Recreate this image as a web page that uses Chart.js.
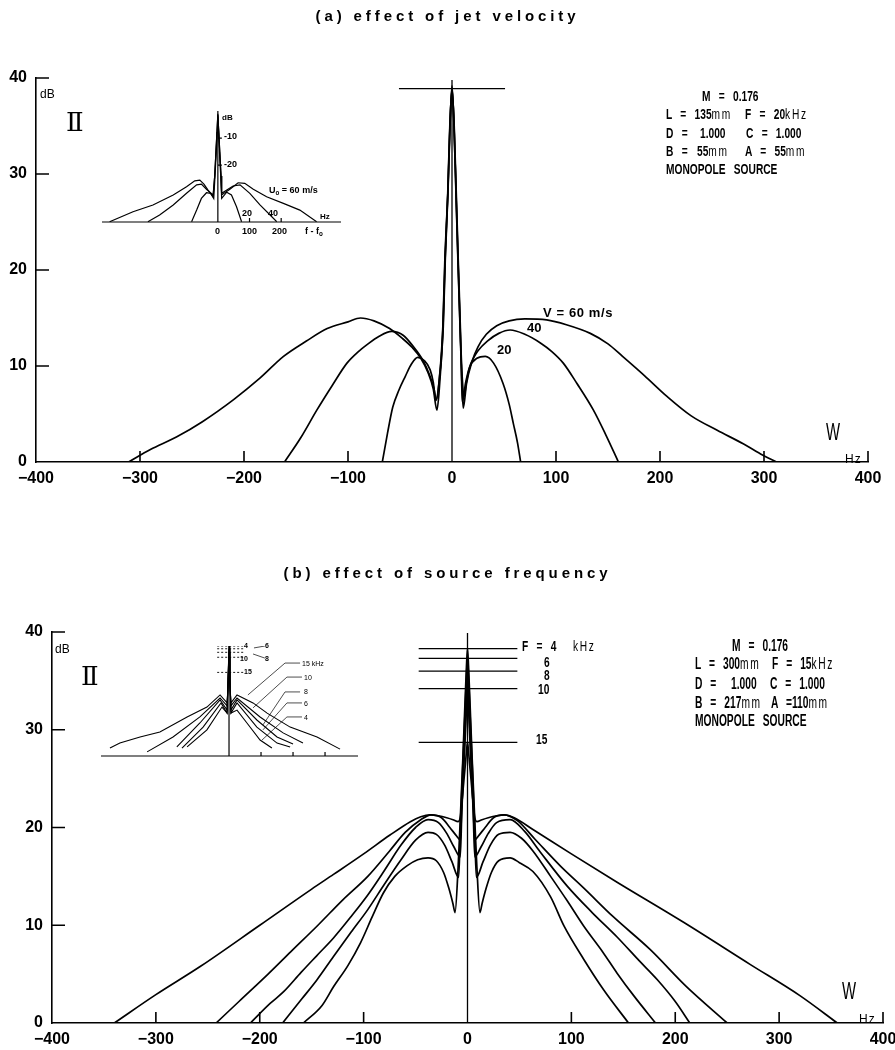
<!DOCTYPE html>
<html><head><meta charset="utf-8">
<script src="https://cdn.jsdelivr.net/npm/chart.js@4.4.1/dist/chart.umd.min.js"></script>
<style>
body{margin:0;background:#fff;}
#wrap{position:relative;width:895px;height:1050px;overflow:hidden;background:#fff;}
canvas{position:absolute;}
.t{position:absolute;white-space:pre;color:#000;line-height:1;}
.title{font-family:'Liberation Sans',Arial,sans-serif;font-size:15px;font-weight:bold;letter-spacing:3.9px;left:0;width:895px;text-align:center;}
.nar{font-family:'Liberation Sans',Arial,sans-serif;font-weight:bold;font-size:15px;word-spacing:8px;transform:scaleX(0.68);transform-origin:left top;}
.nar2{font-family:'Liberation Sans',Arial,sans-serif;font-weight:bold;font-size:16px;word-spacing:8px;transform:scaleX(0.64);transform-origin:left top;}
.u{font-weight:normal;letter-spacing:2.5px;}
.sans{font-family:'Liberation Sans',Arial,sans-serif;}
.b{font-weight:bold;}
.serif{font-family:'DejaVu Serif','Liberation Serif',serif;}
.w{font-family:'Liberation Sans',Arial,sans-serif;font-size:24px;transform:scaleX(0.62);transform-origin:left top;}
sub{font-size:70%;vertical-align:-2px;line-height:0;}
</style></head><body><div id="wrap">
<canvas id="ca" width="895" height="520" style="left:0px;top:0px"></canvas>
<canvas id="cb" width="910" height="510" style="left:0px;top:540px"></canvas>
<canvas id="ia" width="255" height="145" style="left:95px;top:100px"></canvas>
<canvas id="ib" width="270" height="135" style="left:95px;top:635px"></canvas>

<div class="t title" style="top:8px">(a) effect of jet velocity</div>
<div class="t sans" style="left:40px;top:88px;font-size:12px">dB</div>
<div class="t serif" style="left:66px;top:109px;font-size:26px">Ⅱ</div>
<div class="t nar" style="left:702px;top:88px">M = 0.176</div>
<div class="t nar" style="left:666px;top:106px">L = 135<span class="u">mm</span></div>
<div class="t nar" style="left:745px;top:106px">F = 20<span class="u">kHz</span></div>
<div class="t nar" style="left:666px;top:125px">D =</div>
<div class="t nar" style="left:700px;top:125px">1.000</div>
<div class="t nar" style="left:746px;top:125px">C = 1.000</div>
<div class="t nar" style="left:666px;top:143px">B =</div>
<div class="t nar" style="left:697px;top:143px">55<span class="u">mm</span></div>
<div class="t nar" style="left:745px;top:143px">A = 55<span class="u">mm</span></div>
<div class="t nar" style="left:666px;top:161px">MONOPOLE SOURCE</div>
<div class="t sans b" style="left:543px;top:306px;font-size:13px;letter-spacing:0.6px">V = 60 m/s</div>
<div class="t sans b" style="left:527px;top:321px;font-size:13px">40</div>
<div class="t sans b" style="left:497px;top:343px;font-size:13px">20</div>
<div class="t w" style="left:826px;top:420px">W</div>
<div class="t sans" style="left:845px;top:453px;font-size:12px;letter-spacing:1px">Hz</div>

<div class="t sans b" style="left:222px;top:114px;font-size:8px">dB</div>
<div class="t sans b" style="left:224px;top:132px;font-size:9px">-10</div>
<div class="t sans b" style="left:224px;top:160px;font-size:9px">-20</div>
<div class="t sans b" style="left:269px;top:186px;font-size:9px">U<sub>o</sub> = 60 m/s</div>
<div class="t sans b" style="left:242px;top:209px;font-size:9px">20</div>
<div class="t sans b" style="left:268px;top:209px;font-size:9px">40</div>
<div class="t sans b" style="left:320px;top:213px;font-size:8px">Hz</div>
<div class="t sans b" style="left:215px;top:227px;font-size:9px">0</div>
<div class="t sans b" style="left:242px;top:227px;font-size:9px">100</div>
<div class="t sans b" style="left:272px;top:227px;font-size:9px">200</div>
<div class="t sans b" style="left:305px;top:227px;font-size:9px">f - f<sub>o</sub></div>

<div class="t title" style="top:565px">(b) effect of source frequency</div>
<div class="t sans" style="left:55px;top:643px;font-size:12px">dB</div>
<div class="t serif" style="left:81px;top:663px;font-size:26px">Ⅱ</div>
<div class="t nar2" style="left:732px;top:638px">M = 0.176</div>
<div class="t nar2" style="left:695px;top:656px">L = 300<span class="u">mm</span></div>
<div class="t nar2" style="left:772px;top:656px">F = 15<span class="u">kHz</span></div>
<div class="t nar2" style="left:695px;top:676px">D =</div>
<div class="t nar2" style="left:731px;top:676px">1.000</div>
<div class="t nar2" style="left:770px;top:676px">C = 1.000</div>
<div class="t nar2" style="left:695px;top:695px">B = 217<span class="u">mm</span></div>
<div class="t nar2" style="left:771px;top:695px">A =110<span class="u">mm</span></div>
<div class="t nar2" style="left:695px;top:713px">MONOPOLE SOURCE</div>
<div class="t nar" style="left:522px;top:638px">F = 4  <span class="u">kHz</span></div>
<div class="t nar" style="left:544px;top:654px">6</div>
<div class="t nar" style="left:544px;top:667px">8</div>
<div class="t nar" style="left:538px;top:681px">10</div>
<div class="t nar" style="left:536px;top:731px">15</div>
<div class="t w" style="left:842px;top:979px">W</div>
<div class="t sans" style="left:859px;top:1013px;font-size:12px;letter-spacing:1px">Hz</div>

<div class="t sans b" style="left:244px;top:642px;font-size:7px">4</div>
<div class="t sans b" style="left:265px;top:642px;font-size:7px">6</div>
<div class="t sans b" style="left:240px;top:655px;font-size:7px">10</div>
<div class="t sans b" style="left:265px;top:655px;font-size:7px">8</div>
<div class="t sans b" style="left:244px;top:668px;font-size:7px">15</div>
<div class="t sans" style="left:302px;top:660px;font-size:7px">15 kHz</div>
<div class="t sans" style="left:304px;top:674px;font-size:7px">10</div>
<div class="t sans" style="left:304px;top:688px;font-size:7px">8</div>
<div class="t sans" style="left:304px;top:700px;font-size:7px">6</div>
<div class="t sans" style="left:304px;top:714px;font-size:7px">4</div>
</div>
<script>
// ---------- tick labels ----------
const xTickValues = [-400,-300,-200,-100,0,100,200,300,400];
const yTickValues = [0,10,20,30,40];

// ---------- panel (a): effect of jet velocity (V = 60, 40, 20 m/s) ----------
const v60Hz = [-311,-290,-265,-240,-210,-185,-162,-140,-120,-100,-88,-75,-60,-48,-38,-30,-23,-18,-14.5,-12.5,-8.6,-6.7,-4,-2,0,2,3.8,5.7,7.7,9.6,10.8,14,19,25,33,43,55,70,91,110,133,150,164,185,207,230,255,280,299,312];
const v60dB = [0,1.3,2.6,4.2,6.5,8.7,11,12.6,13.9,14.6,15.0,14.7,13.9,12.9,11.9,10.8,9.3,7.6,5.4,7.2,14.1,21,28,35,39,35,28,21,14.1,8.0,5.6,8.2,10.4,12.0,13.3,14.2,14.7,14.9,14.8,14.3,13.4,12.3,11.0,9.0,6.8,4.8,3.3,1.9,0.7,0];
const v40Hz = [-161,-145,-130,-115,-101,-90,-82,-70,-58,-47,-37,-28,-21,-17.5,-15,-12,-8.4,-6.5,-3.9,-1.9,0,1.9,3.9,5.8,7.8,10,11.5,14,17,21,25,34,45,56,70,85,96,107,120,136,148,160];
const v40dB = [0,2.6,5.4,8.0,10.3,11.5,12.2,13.1,13.6,13.2,12.0,10.6,8.9,7.7,6.5,8.8,14.1,21,28,35,39.2,35,28,21,14.1,8.5,6.8,8.4,9.9,10.9,11.6,12.6,13.4,13.75,13.3,12.4,11.5,10.3,8.2,5.4,2.8,0];
const v20Hz = [-67,-62,-57,-51,-45,-39,-33,-27,-21,-18,-15.5,-12.8,-8.8,-6.9,-4.1,-2.1,0,2.1,4.1,6,8,9,10,13,17,24,32,40,49,55,59,63,66];
const v20dB = [0,3,5.7,7.5,8.9,10.2,10.9,10.6,9.6,8.3,6.4,8.0,14.1,21,28,35,38.8,35,28,21,14.1,9.5,6.2,8.2,9.9,10.8,11,10.3,8.2,6,4,2,0];
const aLevel = 38.9, aLevelHz = [-51, 51];
const aAxisTop = 39.8;

// inset (a): f - f0 spectra, U0 = 60, 40, 20 m/s
const ia60Hz = [-342,-268,-205,-141,-99,-73,-57,-44,-31,-15,-10,-6,-3,0,3,6,10,12,38,64,85,112,154,207,259,312];
const ia60dB = [-40.9,-37.2,-34.7,-31.0,-28.0,-25.8,-25.5,-27.0,-29.2,-31.7,-24,-15,-8,-1,-8,-15,-24,-31.0,-28.9,-26.5,-26.7,-28.9,-31.7,-34.1,-36.6,-40.9];
const ia40Hz = [-221,-184,-141,-99,-67,-52,-36,-15,-10,-6,-3,0,3,6,10,12,48,70,101,133,165,186];
const ia40dB = [-40.9,-38.4,-34.7,-30.4,-27.3,-27.0,-28.9,-31.0,-24,-15,-8,-1.5,-8,-15,-24,-30.4,-27.7,-27.3,-30.4,-34.7,-38.4,-40.9];
const ia20Hz = [-83,-67,-52,-36,-23,-13,-9,-5,-2.5,0,2.5,5,9,12,28,43,59,75];
const ia20dB = [-40.9,-36.6,-32.3,-30.2,-30.4,-32.3,-24,-15,-8,-2,-8,-15,-24,-32.3,-30.0,-31.0,-35.4,-40.9];
const iaXTicks = [100, 200];
const iaYTicks = [-10, -20];

// ---------- panel (b): effect of source frequency (F = 4, 6, 8, 10, 15 kHz) ----------
const f15Hz = [-340,-300,-257,-200,-150,-129,-100,-75,-55,-45,-36,-28,-20,-14,-9,-7,-5,-3.5,-2,-1,0,1,2,3.5,5,7,9,14,20,28,36,45,63,100,144,208,272,320,356];
const f15dB = [0,2.9,5.8,10.0,13.7,15.2,17.3,19.2,20.6,21.1,21.3,21.2,21.0,20.8,20.6,21.0,23,24.8,26.5,27.8,28.7,27.8,26.5,24.8,23,21.0,20.6,20.8,21.0,21.2,21.3,21.0,19.8,17.3,14.4,10.3,6.0,2.8,0];
const f10Hz = [-242,-220,-192,-170,-144,-120,-96,-75,-60,-45,-35,-25,-17,-11,-7,-5.5,-4,-2.3,-1,0,1,2.3,4,5.5,7,11,17,25,35,48,65,90,112,140,176,210,250];
const f10dB = [0,2.2,5.0,7.3,10.0,12.6,15.0,17.6,19.5,20.8,21.3,21.0,20.0,19.2,18.75,22,25.5,29,32.2,34.2,32.2,29,25.5,22,18.75,19.2,20.0,21.0,21.3,20.7,18.8,16.0,13.8,10.9,7.5,3.8,0];
const f8Hz = [-209,-190,-177,-160,-145,-129,-112,-96,-80,-64,-50,-38,-28,-20,-13,-7,-5.5,-4,-2.3,-1,0,1,2.3,4,5.5,7,13,20,28,41,55,70,96,120,144,165,183,200,214];
const f8dB = [0,2.0,3.2,5.2,6.9,8.7,10.9,13.1,15.6,18.2,20.0,20.8,20.5,19.4,18.0,17.0,21.5,25.5,30,33.8,36.0,33.8,30,25.5,21.5,17.0,18.0,19.4,20.5,20.8,19.6,17.5,14.0,11.3,8.8,6.4,4.4,2.2,0];
const f6Hz = [-178,-160,-145,-129,-112,-96,-80,-64,-50,-38,-30,-22,-15,-8.5,-6.5,-4.5,-2.5,-1,0,1,2.5,4.5,6.5,8.5,15,22,30,41,52,63,80,96,112,130,144,160,181];
const f6dB = [0,2.4,4.4,6.8,9.3,11.6,14.2,16.7,18.7,19.5,19.3,18.2,16.5,14.9,21,26.5,31.5,35.5,37.3,35.5,31.5,26.5,21,14.9,16.5,18.2,19.3,19.5,18.9,17.6,15.0,12.5,9.9,7.3,5.1,2.8,0];
const f4Hz = [-158,-140,-129,-115,-103,-92,-81,-70,-58,-48,-38,-30,-23,-18,-14,-12,-9,-6.5,-4.5,-2.5,-1,0,1,2.5,4.5,6.5,9,12,14,18,23,30,41,50,63,80,93,112,131,155];
const f4dB = [0,1.8,3.7,5.9,8.2,10.8,13.3,15.0,16.1,16.7,16.9,16.6,15.4,13.8,12.2,11.3,16,22,27,32.5,36.5,38.3,36.5,32.5,27,22,16,11.3,12.2,13.8,15.4,16.6,16.9,16.4,15.5,12.9,9.9,6.5,3.4,0];
const bLevels = [38.3, 37.3, 36.0, 34.2, 28.7];   // F = 4, 6, 8, 10, 15 kHz
const bLevelHz = [-47, 48];
const bAxisTop = 39.9;

// inset (b)
const ib15Hz = [-372,-341,-278,-216,-131,-69,-28,-6,-3,0,3,6,25,75,119,191,275,347];
const ib15dB = [-37.1,-35.3,-33.1,-31.3,-25.8,-22.2,-17.8,-20.7,-15,-9.6,-15,-20.7,-17.8,-20.7,-24.4,-29.5,-33.1,-37.5];
const ib10Hz = [-256,-175,-91,-28,-6,-3,0,3,6,25,97,169,231];
const ib10dB = [-38.5,-33.1,-25.8,-18.9,-21.8,-13,-4.1,-13,-21.8,-18.9,-25.8,-31.6,-35.3];
const ib8Hz = [-163,-91,-28,-6,-3,0,3,6,25,87,150,200];
const ib8dB = [-36.7,-28.0,-19.6,-23.3,-12,-2.3,-12,-23.3,-19.6,-26.9,-33.1,-35.6];
const ib6Hz = [-147,-81,-25,-6,-3,0,3,6,25,87,150,191];
const ib6dB = [-37.1,-29.5,-20.7,-24.4,-12,-1.0,-12,-24.4,-20.7,-29.5,-35.3,-36.7];
const ib4Hz = [-131,-69,-22,-6,-3,0,3,6,25,56,97,134];
const ib4dB = [-36.7,-30.5,-22.2,-24.4,-12,0,-12,-24.4,-23.3,-28.0,-34.2,-37.1];
const ibLevels = [0, -1.0, -2.3, -4.1, -9.6];
const ibLevelHz = [-37, 50];
const ibXTicks = [100, 200, 300];
// leader lines (inset b) : [x1,y1, x2,y2, x3,y3]
const ibLeaders = [[222,-6.2,175,-6.2,59,-17.8],[228,-11.3,181,-11.3,75,-22.5],[222,-16.7,175,-16.7,106,-28.7],[228,-20.7,181,-20.7,106,-30.5],[228,-25.8,181,-25.8,103,-34.2]];
const ibArrows = [[78,-0.7,112,0],[75,-2.9,112,-4.4]];

// ---------- helpers ----------
const TICKFONT = "'Liberation Sans',Arial,sans-serif";
const pts = (xs, ys) => xs.map((x, i) => ({x, y: ys[i]}));
const curve = (xs, ys, w) => ({data: pts(xs, ys), showLine: true, borderColor: '#000', borderWidth: w || 1.7, pointRadius: 0, cubicInterpolationMode: 'monotone', fill: false});
const straight = (data, w, dash) => ({data, showLine: true, borderColor: '#000', borderWidth: w || 1.2, pointRadius: 0, tension: 0, fill: false, borderDash: dash || []});
const fmt = v => String(v).replace('-', '\u2212');

function decor(c) {
  return {
    id: 'decor',
    afterDatasetsDraw(chart) {
      const {ctx} = chart, x = chart.scales.x, y = chart.scales.y;
      ctx.save();
      ctx.strokeStyle = '#000';
      ctx.lineWidth = c.lw;
      ctx.beginPath();
      if (c.frame) {
        ctx.moveTo(x.left, y.bottom); ctx.lineTo(x.right, y.bottom);
        const x0 = x.getPixelForValue(0);
        ctx.moveTo(x0, y.bottom); ctx.lineTo(x0, y.top);
      }
      c.xTicks.forEach(v => { const p = x.getPixelForValue(v); ctx.moveTo(p, y.bottom); ctx.lineTo(p, y.bottom - c.xLen); });
      (c.endTicks || []).forEach(v => { const p = x.getPixelForValue(v); ctx.moveTo(p, y.bottom); ctx.lineTo(p, y.bottom - c.endLen); });
      const yx = c.yAt0 ? x.getPixelForValue(0) : x.left;
      c.yTicks.forEach(v => { const p = y.getPixelForValue(v); ctx.moveTo(yx, p); ctx.lineTo(yx + c.yLen, p); });
      ctx.stroke();
      ctx.restore();
    }
  };
}

function mainChart(id, datasets, pad, yw, xh) {
  const tickFont = {family: TICKFONT, size: 16, weight: 'bold'};
  return new Chart(document.getElementById(id), {
    type: 'scatter',
    data: {datasets},
    options: {
      responsive: false, animation: false, devicePixelRatio: 1,
      layout: {padding: pad},
      plugins: {legend: {display: false}, tooltip: {enabled: false}},
      scales: {
        x: {type: 'linear', min: xTickValues[0], max: xTickValues[xTickValues.length - 1],
            afterBuildTicks: s => { s.ticks = xTickValues.map(v => ({value: v})); },
            afterFit: s => { s.height = xh; },
            ticks: {color: '#000', font: tickFont, padding: 7, maxRotation: 0, autoSkip: false, callback: v => fmt(v)},
            grid: {display: false, drawTicks: false}, border: {display: true, color: '#000', width: 1.6}},
        y: {type: 'linear', min: yTickValues[0], max: yTickValues[yTickValues.length - 1],
            afterBuildTicks: s => { s.ticks = yTickValues.map(v => ({value: v})); },
            afterFit: s => { s.width = yw; },
            ticks: {color: '#000', font: tickFont, padding: 9, autoSkip: false},
            grid: {display: false, drawTicks: false}, border: {display: true, color: '#000', width: 1.6}}
      }
    },
    plugins: [decor({lw: 1.6, xTicks: [-300,-200,-100,100,200,300], xLen: 11, endTicks: [400], endLen: 11, yTicks: [10,20,30,40], yLen: 13})]
  });
}

function insetChart(id, datasets, xr, yr, pad, xTicks, yTicks) {
  return new Chart(document.getElementById(id), {
    type: 'scatter',
    data: {datasets},
    options: {
      responsive: false, animation: false, devicePixelRatio: 1,
      layout: {padding: pad},
      plugins: {legend: {display: false}, tooltip: {enabled: false}},
      scales: {
        x: {type: 'linear', min: xr[0], max: xr[1], display: false},
        y: {type: 'linear', min: yr[0], max: yr[1], display: false}
      }
    },
    plugins: [decor({lw: 1.2, frame: true, xTicks, xLen: 4, yTicks, yLen: 4, yAt0: true})]
  });
}

// ---------- panel (a) ----------
mainChart('ca', [
  curve(v60Hz, v60dB), curve(v40Hz, v40dB), curve(v20Hz, v20dB),
  straight([{x: aLevelHz[0], y: aLevel}, {x: aLevelHz[1], y: aLevel}], 1.3),
  straight([{x: 0, y: 0}, {x: 0, y: aAxisTop}], 1.3)
], {top: 78, right: 27, left: 0, bottom: 0}, 36, 58);

insetChart('ia', [
  straight(pts(ia60Hz, ia60dB), 1.2), straight(pts(ia40Hz, ia40dB), 1.2), straight(pts(ia20Hz, ia20dB), 1.2)
], [-366, 389], [-41, 0], {left: 7, right: 9, top: 11, bottom: 23}, iaXTicks, iaYTicks);

// ---------- panel (b) ----------
const bSets = [curve(f15Hz, f15dB), curve(f10Hz, f10dB), curve(f8Hz, f8dB), curve(f6Hz, f6dB), curve(f4Hz, f4dB)];
bLevels.forEach(l => bSets.push(straight([{x: bLevelHz[0], y: l}, {x: bLevelHz[1], y: l}], 1.2)));
bSets.push(straight([{x: 0, y: 0}, {x: 0, y: bAxisTop}], 1.3));
mainChart('cb', bSets, {top: 92, right: 27, left: 0, bottom: 0}, 52, 27);

const ibSets = [[ib15Hz, ib15dB], [ib10Hz, ib10dB], [ib8Hz, ib8dB], [ib6Hz, ib6dB], [ib4Hz, ib4dB]]
  .map(([a, b]) => straight(pts(a, b), 1.1));
ibLevels.forEach(l => ibSets.push(straight([{x: ibLevelHz[0], y: l}, {x: ibLevelHz[1], y: l}], 0.9, [2, 2])));
ibLeaders.forEach(L => ibSets.push(straight([{x: L[0], y: L[1]}, {x: L[2], y: L[3]}, {x: L[4], y: L[5]}], 0.7)));
ibArrows.forEach(A => ibSets.push(straight([{x: A[0], y: A[1]}, {x: A[2], y: A[3]}], 0.7)));
insetChart('ib', ibSets, [-400, 403], [-40, 0], {left: 6, right: 7, top: 11, bottom: 14}, ibXTicks, []);
</script>
</body></html>
